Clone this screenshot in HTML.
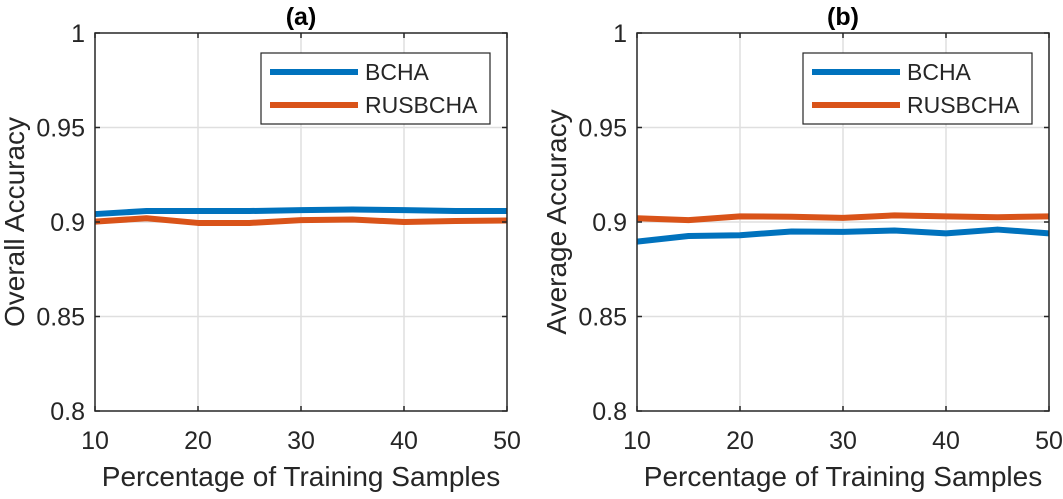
<!DOCTYPE html>
<html><head><meta charset="utf-8"><style>
html,body{margin:0;padding:0;background:#fff;}
svg text{font-family:"Liberation Sans",Arial,sans-serif;fill:#262626;}
</style></head><body>
<svg id="chart" width="1063" height="494" viewBox="0 0 1063 494" xmlns="http://www.w3.org/2000/svg"></svg>
<script>
const xValues = [10,15,20,25,30,35,40,45,50];
const xTicks = [10,20,30,40,50];
const yTicks = [0.8,0.85,0.9,0.95,1];
const yTickLabels = ["0.8","0.85","0.9","0.95","1"];
const seriesNames = ["BCHA","RUSBCHA"];
const aBCHA = [0.9042,0.9058,0.9058,0.9058,0.9063,0.9066,0.9063,0.9058,0.9058];
const aRUSBCHA = [0.9002,0.9020,0.8995,0.8995,0.9010,0.9013,0.9000,0.9005,0.9008];
const bBCHA = [0.8896,0.8926,0.8930,0.8950,0.8948,0.8955,0.8940,0.8960,0.8940];
const bRUSBCHA = [0.9020,0.9010,0.9030,0.9028,0.9022,0.9035,0.9030,0.9025,0.9030];
const colors = ["#0072BD","#D95319"];

const NS = "http://www.w3.org/2000/svg";
const svg = document.getElementById("chart");
function mk(tag, attrs, parent){const e=document.createElementNS(NS,tag);for(const k in attrs)e.setAttribute(k,attrs[k]);(parent||svg).appendChild(e);return e;}

function panel(id, left, title, ylabel, s1, s2){
  const top=33, bottom=411, right=left+412;
  const g = mk("g",{});
  
  
  const xs = v => left + (v-10)/40*(right-left);
  const ys = v => bottom - (v-0.8)/0.2*(bottom-top);
  xTicks.forEach(t=>{ if(t>10&&t<50){const l=mk("line",{x1:xs(t),x2:xs(t),y1:top,y2:bottom,stroke:"#dfdfdf","stroke-width":1.5},g);
    }});
  yTicks.forEach(t=>{ if(t>0.8&&t<1){const l=mk("line",{x1:left,x2:right,y1:ys(t),y2:ys(t),stroke:"#dfdfdf","stroke-width":1.5},g);
    }});
  [s1,s2].forEach((s,i)=>{
    const p = mk("polyline",{points:s.map((v,j)=>xs(xValues[j])+","+ys(v)).join(" "),fill:"none",stroke:colors[i],"stroke-width":6,"stroke-linejoin":"round"},g);
    
    
  });
  const box = mk("rect",{x:left,y:top,width:right-left,height:bottom-top,fill:"none",stroke:"#262626","stroke-width":1.5},g);
  
  xTicks.forEach(t=>{
    mk("line",{x1:xs(t),x2:xs(t),y1:bottom,y2:bottom-5,stroke:"#262626","stroke-width":1.5},g);
    mk("line",{x1:xs(t),x2:xs(t),y1:top,y2:top+5,stroke:"#262626","stroke-width":1.5},g);
    const tx = mk("text",{x:xs(t),y:449,"font-size":25,"text-anchor":"middle"},g);
    tx.textContent=t;
    
  });
  yTicks.forEach((t,i)=>{
    mk("line",{x1:left,x2:left+5,y1:ys(t),y2:ys(t),stroke:"#262626","stroke-width":1.5},g);
    mk("line",{x1:right,x2:right-5,y1:ys(t),y2:ys(t),stroke:"#262626","stroke-width":1.5},g);
    const ty = mk("text",{x:left-10,y:ys(t)+9,"font-size":25,"text-anchor":"end"},g);
    ty.textContent=yTickLabels[i];
    
  });
  const xl = mk("text",{x:(left+right)/2,y:486,"font-size":28,"text-anchor":"middle"},g);
  xl.textContent="Percentage of Training Samples";
  
  const yl = mk("text",{x:0,y:0,"font-size":28,"text-anchor":"middle",transform:"translate("+(left-71)+","+((top+bottom)/2)+") rotate(-90)"},g);
  yl.textContent=ylabel;
  
  const tt = mk("text",{x:(left+right)/2,y:25,"font-size":25,"font-weight":"bold","text-anchor":"middle",style:"fill:#000"},g);
  tt.textContent=title;
  
  const lg = mk("g",{},g);
  
  const lx = left+166;
  mk("rect",{x:lx,y:53,width:229,height:71,fill:"#fff",stroke:"#262626","stroke-width":1.2},lg);
  seriesNames.forEach((n,i)=>{
    const y = 72+i*33;
    const e = mk("g",{},lg);
    
    mk("line",{x1:lx+9,x2:lx+97,y1:y,y2:y,stroke:colors[i],"stroke-width":6},e);
    const t = mk("text",{x:lx+104,y:y+8,"font-size":23},e);
    t.textContent=n;
  });
}
panel("a",95,"(a)","Overall Accuracy",aBCHA,aRUSBCHA);
panel("b",637,"(b)","Average Accuracy",bBCHA,bRUSBCHA);
</script>
</body></html>
